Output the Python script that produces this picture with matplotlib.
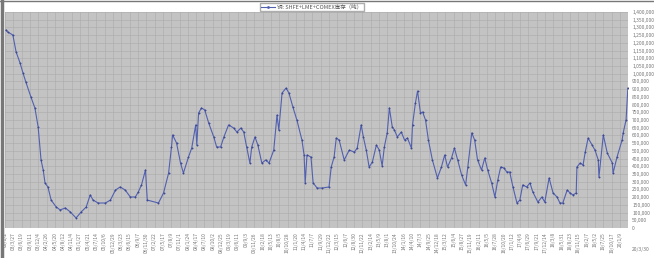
import numpy as np
import pandas as pd
import matplotlib
matplotlib.use('Agg')
import matplotlib.pyplot as plt
from matplotlib.lines import Line2D

plt.rcParams['font.family'] = ['Noto Sans CJK SC', 'DejaVu Sans']

# 铜 三大交易所库存（吨），按图读取的时间点（年份小数）与数值
years = [2003.03, 2003.08, 2003.22, 2003.31, 2003.42, 2003.50, 2003.58, 2003.72, 2003.83, 2003.92,
         2004.00, 2004.06, 2004.11, 2004.19, 2004.28, 2004.42, 2004.53, 2004.67, 2004.81, 2004.97,
         2005.11, 2005.25, 2005.36, 2005.44, 2005.58, 2005.78, 2005.92, 2006.06, 2006.19, 2006.33,
         2006.47, 2006.61, 2006.69, 2006.78, 2006.89, 2006.94, 2007.25, 2007.39, 2007.53, 2007.61,
         2007.64, 2007.75, 2007.86, 2007.94, 2008.08, 2008.17, 2008.28, 2008.31, 2008.36, 2008.44,
         2008.53, 2008.64, 2008.78, 2008.86, 2008.97, 2009.06, 2009.19, 2009.33, 2009.42, 2009.53,
         2009.61, 2009.69, 2009.78, 2009.83, 2009.92, 2010.00, 2010.11, 2010.22, 2010.31, 2010.44,
         2010.53, 2010.58, 2010.67, 2010.78, 2010.86, 2010.97, 2011.08, 2011.22, 2011.28, 2011.31,
         2011.36, 2011.47, 2011.53, 2011.64, 2011.78, 2011.97, 2012.03, 2012.11, 2012.17, 2012.25,
         2012.39, 2012.53, 2012.67, 2012.75, 2012.86, 2012.92, 2013.00, 2013.08, 2013.17, 2013.28,
         2013.36, 2013.44, 2013.50, 2013.58, 2013.64, 2013.72, 2013.78, 2013.86, 2013.97, 2014.06,
         2014.14, 2014.25, 2014.28, 2014.36, 2014.42, 2014.50, 2014.56, 2014.64, 2014.72, 2014.83,
         2014.97, 2015.08, 2015.17, 2015.25, 2015.36, 2015.44, 2015.53, 2015.64, 2015.75, 2015.81,
         2015.92, 2016.00, 2016.08, 2016.19, 2016.28, 2016.36, 2016.47, 2016.56, 2016.64, 2016.72,
         2016.81, 2016.89, 2016.97, 2017.06, 2017.17, 2017.25, 2017.33, 2017.44, 2017.53, 2017.61,
         2017.75, 2017.86, 2017.94, 2018.06, 2018.17, 2018.28, 2018.36, 2018.44, 2018.56, 2018.64,
         2018.72, 2018.81, 2018.83, 2018.92, 2019.00, 2019.06, 2019.14, 2019.25, 2019.33, 2019.42,
         2019.44, 2019.56, 2019.67, 2019.81, 2019.83, 2019.94, 2020.08, 2020.11, 2020.19, 2020.24]

stocks = [1283000, 1270000, 1251000, 1141000, 1069000, 1005000, 946000, 849000, 778000, 655000,
          441000, 376000, 292000, 266000, 181000, 136000, 117000, 130000, 104000, 65000,
          104000, 136000, 214000, 181000, 162000, 162000, 181000, 246000, 266000, 246000,
          201000, 201000, 233000, 279000, 376000, 181000, 162000, 227000, 356000, 525000,
          603000, 551000, 421000, 356000, 460000, 518000, 668000, 538000, 745000, 778000,
          765000, 680000, 590000, 525000, 525000, 590000, 668000, 648000, 622000, 648000,
          622000, 525000, 421000, 525000, 590000, 538000, 421000, 441000, 421000, 505000,
          732000, 635000, 875000, 907000, 875000, 784000, 700000, 570000, 473000, 292000,
          473000, 460000, 292000, 259000, 259000, 266000, 395000, 460000, 583000, 570000,
          441000, 505000, 492000, 518000, 668000, 590000, 505000, 395000, 428000, 538000,
          505000, 402000, 525000, 616000, 778000, 655000, 635000, 590000, 622000, 570000,
          583000, 518000, 668000, 810000, 888000, 745000, 752000, 700000, 570000, 441000,
          324000, 395000, 473000, 395000, 454000, 518000, 441000, 343000, 279000, 395000,
          616000, 570000, 441000, 376000, 454000, 376000, 292000, 201000, 311000, 395000,
          389000, 363000, 363000, 266000, 162000, 181000, 279000, 266000, 292000, 233000,
          168000, 201000, 168000, 324000, 227000, 201000, 162000, 162000, 246000, 227000,
          214000, 227000, 395000, 421000, 408000, 492000, 583000, 538000, 505000, 441000,
          330000, 603000, 486000, 421000, 356000, 460000, 570000, 616000, 700000, 907000]

start_date = '2003-01-02'
end_date = '2020-03-30'
series_name = '铜: SHFE+LME+COMEX库存（吨）'


def to_year(d):
    d = pd.Timestamp(d)
    return d.year + (d.dayofyear - 1) / 365.25


# 每 12 周一个刻度标签
label_dates = pd.date_range(start_date, periods=75, freq='84D')
tick_pos = [to_year(d) for d in label_dates]
tick_lab = [f"{d.year % 100:02d}/{d.month}/{d.day}" for d in label_dates]

fig = plt.figure(figsize=(6.54, 2.58), dpi=100)
fig.patch.set_facecolor('white')
ax = fig.add_axes([5 / 654, 1 - 228 / 258, 623 / 654, 216 / 258])
ax.set_facecolor('#c3c3c3')

line_color = '#5260b0'
ax.plot(years, stocks, color=line_color, lw=0.8, marker='o', ms=1.0,
        markeredgewidth=0.3, markerfacecolor='#3c4890', markeredgecolor='#3c4890')

ax.set_xlim(to_year(start_date), to_year(end_date))
ax.set_ylim(0, 1400000)
ax.set_yticks(np.arange(0, 1400001, 50000))
ax.set_yticklabels(['0' if v == 0 else f'{v:,}' for v in range(0, 1400001, 50000)])
ax.yaxis.tick_right()
ax.set_xticks(tick_pos)
ax.set_xticklabels(tick_lab, rotation=90)
ax.tick_params(axis='both', length=0, labelsize=3.6, colors='#777777', pad=3)
ax.grid(True, color='#adadad', lw=0.45)
ax.set_axisbelow(True)
for s in ax.spines.values():
    s.set_visible(False)

fig.text(650 / 654, 1 - 250 / 258, '20/3/30', fontsize=3.6, color='#777777',
         ha='right', va='center')

handle = Line2D([], [], color=line_color, lw=0.8, marker='o', ms=1.0)
fig.legend([handle], [series_name], loc='center', bbox_to_anchor=(312 / 654, 1 - 7 / 258),
           fontsize=4, frameon=True, fancybox=False, edgecolor='#999999',
           labelcolor='#555555', handlelength=2.5, borderpad=0.3, handletextpad=0.4)

# 外框
fig.add_artist(Line2D([1.5 / 654, 1.5 / 654], [0, 1], color='#777777', lw=2.5,
                      transform=fig.transFigure))
fig.add_artist(Line2D([0, 1], [1 - 0.5 / 258, 1 - 0.5 / 258], color='#777777', lw=1,
                      transform=fig.transFigure))

fig.savefig('out.png', dpi=100)
